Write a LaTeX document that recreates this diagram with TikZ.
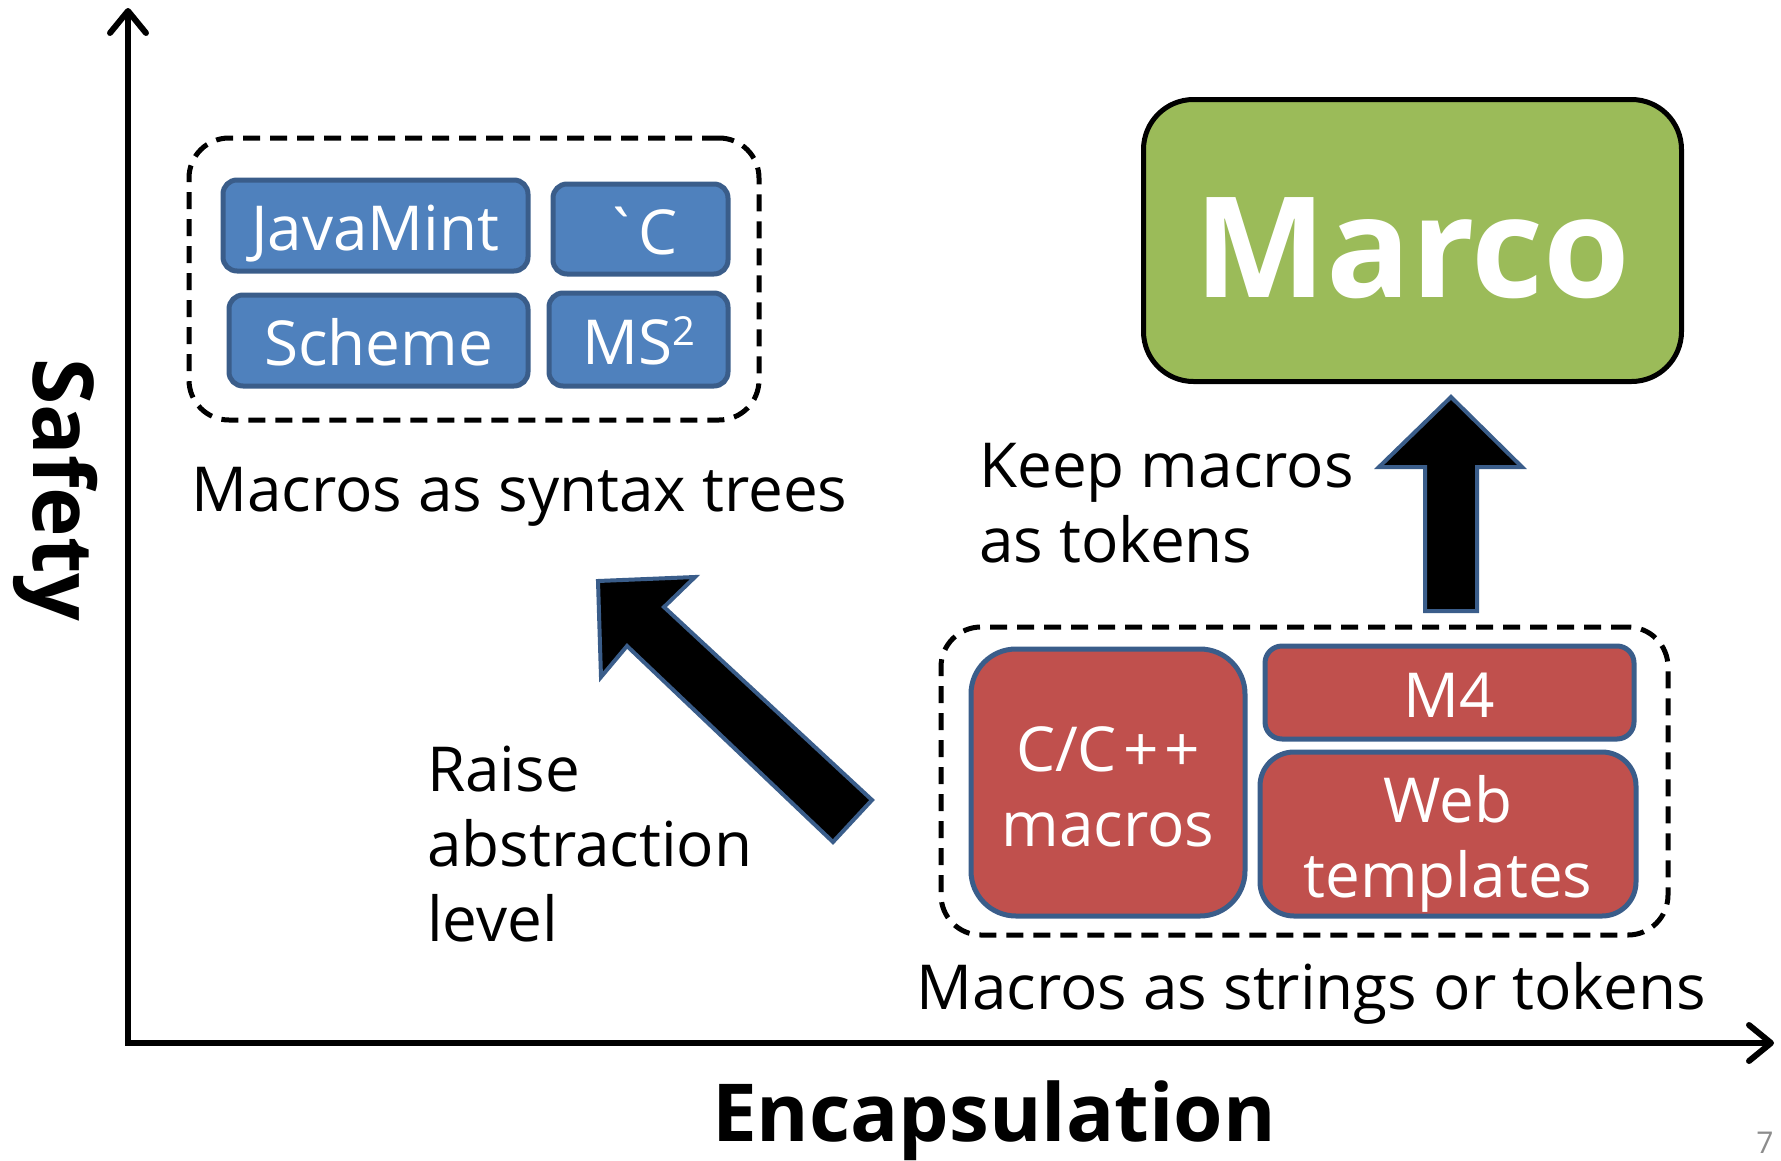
\documentclass[tikz,border=0pt]{standalone}
\usepackage{fontspec}
\setmainfont{Open Sans}[Ligatures=TeXOff]
\usetikzlibrary{arrows.meta}

\definecolor{boxblue}{HTML}{4F81BD}
\definecolor{edgeblue}{HTML}{3A5D8A}
\definecolor{boxred}{HTML}{C0504D}
\definecolor{boxgreen}{HTML}{9BBB59}
\definecolor{pagegray}{HTML}{8C8C8C}

\newcommand\setsize[2]{\fontsize{#1}{#2}\selectfont}

\begin{document}
\begin{tikzpicture}[x=1pt,y=-1pt,
  lang/.style={draw=edgeblue, line width=5pt, text=white, inner sep=0pt,
    font=\setsize{62pt}{75pt}, text height=50pt, text depth=0pt},
  bluebox/.style={lang, fill=boxblue, rounded corners=14pt},
  redbox/.style={lang, fill=boxred},
  group/.style={draw=black, line width=5pt, dash pattern=on 17pt off 10pt,
    rounded corners=40pt, inner sep=0pt},
  caption/.style={font=\setsize{62pt}{75pt}, inner sep=0pt, anchor=base west},
  blockarrow/.style={fill=black, draw=edgeblue, line width=4pt, line join=miter},
  axis/.style={line width=6pt, line join=miter,
    {Straight Barb[length=22pt,width=36pt,round]}-{Straight Barb[length=22pt,width=36pt,round]}},
]
\useasboundingbox (0,0) rectangle (1781,1160);

% axes
\coordinate (origin) at (128,1043);
\coordinate (ytip) at (128,8);
\coordinate (xtip) at (1774,1043);
\draw[axis] (ytip) -- (origin) -- (xtip);
\node[font=\bfseries\setsize{84pt}{84pt}, rotate=-90, anchor=base, inner sep=0pt]
  (safety) at (33,490) {Safety};
\node[font=\bfseries\setsize{80pt}{80pt}, anchor=base, inner sep=0pt]
  (encap) at (994,1141) {Encapsulation};

% macros as syntax trees
\node[group, minimum width=570pt, minimum height=282pt] (trees) at (474,279) {};
\node[bluebox, minimum width=305pt, minimum height=91pt] (javamint) at (375.5,225.5) {JavaMint};
\node[bluebox, minimum width=175pt, minimum height=90pt] (bqc) at (640.5,229) {\symbol{"60}C};
\node[bluebox, minimum width=299pt, minimum height=91pt] (scheme) at (378.5,340.5) {Scheme};
\node[bluebox, minimum width=179pt, minimum height=93pt] (ms2) at (638.5,339.5)
  {MS\raisebox{19pt}{\setsize{40pt}{40pt}2}};
\node[caption] (treescap) at (191,511) {Macros as syntax trees};

% macros as strings or tokens
\node[group, minimum width=727pt, minimum height=308pt] (strings) at (1304.5,781) {};
\node[redbox, rounded corners=45pt, minimum width=274pt, minimum height=267pt,
  text height=127.5pt]
  (cmacros) at (1108,782.5) {\begin{tabular}[b]{@{}c@{}}C/C\kern6pt+\kern6pt+\\macros\end{tabular}};
\node[redbox, rounded corners=17pt, minimum width=369pt, minimum height=93pt]
  (mfour) at (1449.5,692.5) {M4};
\node[redbox, rounded corners=34pt, minimum width=376pt, minimum height=164pt,
  text height=127.5pt]
  (web) at (1448,834) {\begin{tabular}[b]{@{}c@{}}Web\\templates\end{tabular}};
\node[caption] (stringscap) at (916,1009) {Macros as strings or tokens};

% Marco
\node[draw=black, line width=5pt, fill=boxgreen, rounded corners=50pt,
  minimum width=538pt, minimum height=282pt, inner sep=0pt, text=white,
  font=\bfseries\setsize{140pt}{140pt}, text height=113pt, text depth=0pt]
  (marco) at (1412.5,240.5) {Marco};

% block arrows
\draw[blockarrow] (1451,397) -- (1522,467) -- (1477,467) -- (1477,611)
  -- (1425,611) -- (1425,467) -- (1379,467) -- cycle;
\node[caption] (keep) at (979,562)
  {\begin{tabular}[b]{@{}l@{}}Keep macros\\as tokens\end{tabular}};

\draw[blockarrow] (598,581) -- (695,577) -- (664,607) -- (872,800)
  -- (833,842) -- (627,646) -- (601,677) -- cycle;
\node[caption] (raise) at (427,941)
  {\begin{tabular}[b]{@{}l@{}}Raise\\abstraction\\level\end{tabular}};

% page number
\node[text=pagegray, font=\setsize{30pt}{30pt}, anchor=base, inner sep=0pt]
  (pagenum) at (1765,1153) {7};
\end{tikzpicture}
\end{document}
